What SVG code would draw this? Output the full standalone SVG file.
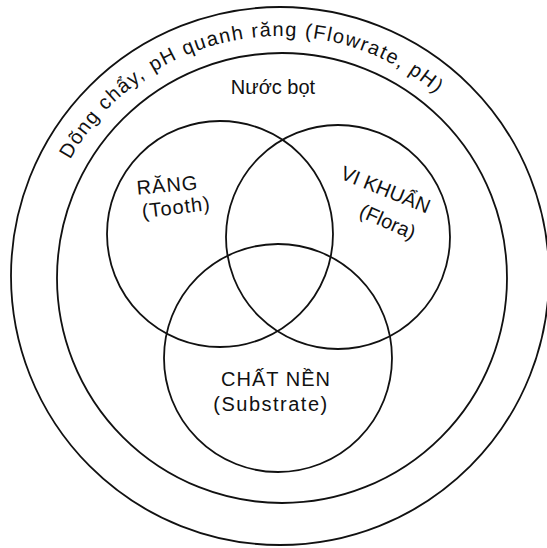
<svg xmlns="http://www.w3.org/2000/svg" width="547" height="548" viewBox="0 0 547 548">
<style>
.c{fill:none;stroke:#111;stroke-width:1.8}
.t{font-family:"Liberation Sans","DejaVu Sans",sans-serif;font-size:20px;fill:#111;text-anchor:middle}
.a{font-family:"Liberation Sans","DejaVu Sans",sans-serif;font-size:20px;fill:#111;letter-spacing:1.4px}
</style>
<defs>
<path id="arcp" d="M 54.5 193.9 A 240 240 0 0 1 463.8 121.7"/>
</defs>
<rect width="547" height="548" fill="#fff"/>
<g id="outer">
<circle class="c" cx="280" cy="276" r="269"/>
<text class="a"><textPath href="#arcp" startOffset="37.7">Dõng chẩy,</textPath></text>
<text class="a"><textPath href="#arcp" startOffset="159.9">pH</textPath></text>
<text class="a"><textPath href="#arcp" startOffset="195.3">quanh răng</textPath></text>
<text class="a"><textPath href="#arcp" startOffset="317.5">(Flowrate,</textPath></text>
<text class="a"><textPath href="#arcp" startOffset="427.5">pH)</textPath></text>
</g>
<g id="saliva">
<circle class="c" cx="282" cy="278" r="225"/>
<text class="t" x="273" y="94">Nước bọt</text>
</g>
<g id="tooth">
<circle class="c" cx="220" cy="234" r="113"/>
<text class="t" transform="translate(168,192) rotate(-5)" letter-spacing="1">RĂNG</text>
<text class="t" transform="translate(177,214) rotate(-7)" letter-spacing="1">(Tooth)</text>
</g>
<g id="flora">
<circle class="c" cx="338" cy="237" r="112"/>
<text class="t" transform="translate(383,196) rotate(22)">VI KHUẨN</text>
<text class="t" transform="translate(385,228) rotate(24)">(Flora)</text>
</g>
<g id="substrate">
<circle class="c" cx="278" cy="358" r="114"/>
<text class="t" x="276" y="386" letter-spacing="1">CHẤT NỀN</text>
<text class="t" x="271" y="411" font-size="21" letter-spacing="1.5">(Substrate)</text>
</g>
<g id="connectors"></g>
</svg>
